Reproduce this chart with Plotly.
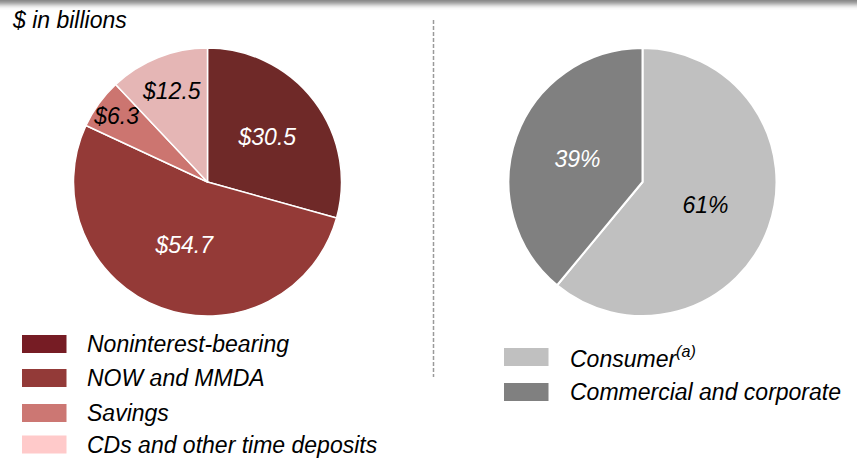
import plotly.graph_objects as go

W, H = 857, 458

# ---- data ----
deposit_types = ["Noninterest-bearing", "NOW and MMDA", "Savings", "CDs and other time deposits"]
deposit_values = [30.5, 54.7, 6.3, 12.5]
deposit_text = ["$30.5", "$54.7", "$6.3", "$12.5"]

segments = ["Consumer", "Commercial and corporate"]
segment_legend = ["Consumer<sup>(a)</sup>", "Commercial and corporate"]
segment_values = [61, 39]
segment_text = ["61%", "39%"]

subtitle = "$ in billions"

# ---- styles ----
pie_colors_left = ["#6f2928", "#943a37", "#cc7570", "#e5b6b5"]
legend_colors_left = ["#761c24", "#933a38", "#cc7773", "#ffcaca"]
text_colors_left = ["white", "white", "black", "black"]
pie_colors_right = ["#c0c0c0", "#808080"]
text_colors_right = ["black", "white"]
FONT = "Liberation Sans, Arial, sans-serif"
FS = 23


def px(x):
    return x / W


def py(y):
    return 1 - y / H


R = 134
cl = (207.5, 182)
cr = (642.5, 182)

fig = go.Figure()
fig.add_trace(go.Pie(
    labels=deposit_types, values=deposit_values, text=deposit_text,
    textinfo="text", textposition="inside", insidetextorientation="horizontal",
    sort=False, direction="clockwise", rotation=0,
    marker=dict(colors=pie_colors_left, line=dict(color="white", width=1.5)),
    insidetextfont=dict(family=FONT, size=FS, color=text_colors_left, style="italic"),
    domain=dict(x=[px(cl[0] - R), px(cl[0] + R)], y=[py(cl[1] + R), py(cl[1] - R)]),
    showlegend=False, hoverinfo="label+value",
))
fig.add_trace(go.Pie(
    labels=segments, values=segment_values, text=segment_text,
    textinfo="text", textposition="inside", insidetextorientation="horizontal",
    sort=False, direction="clockwise", rotation=0,
    marker=dict(colors=pie_colors_right, line=dict(color="white", width=2)),
    insidetextfont=dict(family=FONT, size=FS, color=text_colors_right, style="italic"),
    domain=dict(x=[px(cr[0] - R), px(cr[0] + R)], y=[py(cr[1] + R), py(cr[1] - R)]),
    showlegend=False, hoverinfo="label+value",
))

shapes = []
annotations = []

# top shadow bar (gradient approximation)
shade = ["#8a8a8a", "#959595", "#a2a2a2", "#b2b2b2", "#c4c4c4", "#d6d6d6", "#e5e5e5", "#f0f0f0", "#f8f8f8"]
for i, c in enumerate(shade):
    shapes.append(dict(type="rect", xref="paper", yref="paper", x0=0, x1=1,
                       y0=py(i + 1.5), y1=py(i), fillcolor=c, line=dict(width=0), layer="below"))

# dashed divider
shapes.append(dict(type="line", xref="paper", yref="paper", x0=px(433.5), x1=px(433.5),
                   y0=py(20), y1=py(377), line=dict(color="#9a9a9a", width=1.5, dash="4px,2px")))

# subtitle
annotations.append(dict(x=px(10), y=py(20), xref="paper", yref="paper", text=subtitle,
                        showarrow=False, xanchor="left", yanchor="middle",
                        font=dict(family=FONT, size=FS, color="black", style="italic")))

# left legend
left_rows = [344, 378, 413, 444.5]
for name, col, yc in zip(deposit_types, legend_colors_left, left_rows):
    shapes.append(dict(type="rect", xref="paper", yref="paper", x0=px(22), x1=px(66.5),
                       y0=py(yc + 9), y1=py(yc - 9), fillcolor=col, line=dict(width=0)))
    annotations.append(dict(x=px(85), y=py(yc), xref="paper", yref="paper", text=name,
                            showarrow=False, xanchor="left", yanchor="middle",
                            font=dict(family=FONT, size=FS, color="black", style="italic")))

# right legend
right_rows = [357, 392]
for name, col, yc in zip(segment_legend, pie_colors_right, right_rows):
    shapes.append(dict(type="rect", xref="paper", yref="paper", x0=px(504), x1=px(548.5),
                       y0=py(yc + 9), y1=py(yc - 9), fillcolor=col, line=dict(width=0)))
    annotations.append(dict(x=px(568), y=py(yc), xref="paper", yref="paper", text=name,
                            showarrow=False, xanchor="left", yanchor="middle",
                            font=dict(family=FONT, size=FS, color="black", style="italic")))

fig.update_layout(
    width=W, height=H, margin=dict(l=0, r=0, t=0, b=0),
    paper_bgcolor="white", plot_bgcolor="white",
    shapes=shapes, annotations=annotations,
    uniformtext=dict(minsize=FS, mode="show"),
)

fig.write_html("out.html", config={"displayModeBar": False},
               post_script="document.body.style.margin='0';document.body.style.overflow='hidden';")
